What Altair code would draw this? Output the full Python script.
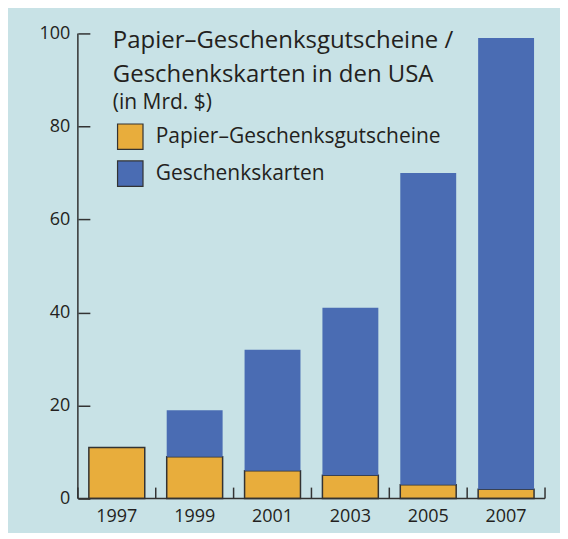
import altair as alt
import pandas as pd

years = ["1997", "1999", "2001", "2003", "2005", "2007"]
paper = [11, 9, 6, 5, 3, 2]
cards = [0, 10, 26, 36, 67, 97]
series = ["Papier–Geschenksgutscheine", "Geschenkskarten"]
colors = ["#e8ad3c", "#4a6cb3"]
yticks = [0, 20, 40, 60, 80, 100]
title_lines = ["Papier–Geschenksgutscheine /", "Geschenkskarten in den USA"]
subtitle = "(in Mrd. $)"

rows = []
for y, p, c in zip(years, paper, cards):
    rows.append({"year": y, "series": series[0], "value": p, "order": 0})
    if c > 0:
        rows.append({"year": y, "series": series[1], "value": c, "order": 1})
df = pd.DataFrame(rows)

FONT = "Open Sans"
TXT = "#231f20"
W, H = 468, 466
PI, PO = 0.282, 0.141
STEP = W / len(years)
HALFGAP = STEP * PI / 2

xscale = alt.Scale(type="band", domain=years, paddingInner=PI, paddingOuter=PO)

x_enc = alt.X("year:N", sort=years, scale=xscale,
              axis=alt.Axis(title=None, orient="bottom", ticks=False, domain=False,
                            labelFontSize=18, labelColor=TXT,
                            labelPadding=9, labelFont=FONT, labelAngle=0))
y_enc = alt.Y("value:Q", stack="zero",
              scale=alt.Scale(domain=[0, 100], nice=False),
              axis=alt.Axis(title=None, values=yticks, offset=-12, tickSize=12,
                            domain=False, grid=False, tickColor="#333", tickWidth=1.5,
                            labelFontSize=18, labelColor=TXT, labelPadding=8,
                            labelFont=FONT))

bars = alt.Chart(df).mark_bar(strokeWidth=1.5).encode(
    x=x_enc,
    y=y_enc,
    color=alt.Color("series:N", sort=series,
                    scale=alt.Scale(domain=series, range=colors),
                    legend=alt.Legend(title=None, orient="none", legendX=39, legendY=90,
                                      symbolType="square", symbolSize=650,
                                      symbolStrokeColor="#333", symbolStrokeWidth=1.2,
                                      labelFontSize=21, labelFont=FONT, labelColor=TXT,
                                      labelOffset=12, rowPadding=6, symbolOpacity=1,
                                      labelLimit=0)),
    order=alt.Order("order:Q"),
    stroke=alt.condition(alt.datum.order == 0, alt.value("#333"), alt.value("transparent")),
)

tick_df = pd.DataFrame({"year": years})
left_ticks = alt.Chart(tick_df).mark_rule(
    color="#333", strokeWidth=1.5, xOffset=-HALFGAP).encode(
    x=alt.X("year:N", sort=years, scale=xscale, bandPosition=0),
    y=alt.value(H - 11), y2=alt.value(H))
right_tick = alt.Chart(pd.DataFrame({"year": [years[-1]]})).mark_rule(
    color="#333", strokeWidth=1.5, xOffset=HALFGAP).encode(
    x=alt.X("year:N", sort=years, scale=xscale, bandPosition=1),
    y=alt.value(H - 11), y2=alt.value(H))

ydom = alt.Chart(pd.DataFrame({"a": [0], "b": [100]})).mark_rule(
    color="#333", strokeWidth=1.5).encode(
    x=alt.value(0), y=alt.Y("a:Q"), y2="b:Q")
xdom = alt.Chart(pd.DataFrame({"a": [0]})).mark_rule(
    color="#333", strokeWidth=1.5).encode(
    y=alt.Y("a:Q"), x=alt.value(0), x2=alt.value(W))

chart = alt.layer(bars, left_ticks, right_tick, ydom, xdom).properties(
    width=W, height=H,
    padding={"left": 70, "top": 25, "right": 15, "bottom": 34},
    autosize=alt.AutoSizeParams(type="none"),
    background="#c8e2e6",
    title=alt.TitleParams(text=title_lines, subtitle=subtitle, anchor="start",
                          frame="group", orient="top", offset=0, dx=35, dy=89,
                          font=FONT, fontSize=24, fontWeight="normal", color=TXT,
                          lineHeight=34, subtitleFont=FONT, subtitleFontSize=21,
                          subtitleColor=TXT, subtitlePadding=5),
).configure_view(stroke=None).configure_axis(labelFont=FONT)

chart.save("out.html", embed_options={"renderer": "svg", "actions": False})
